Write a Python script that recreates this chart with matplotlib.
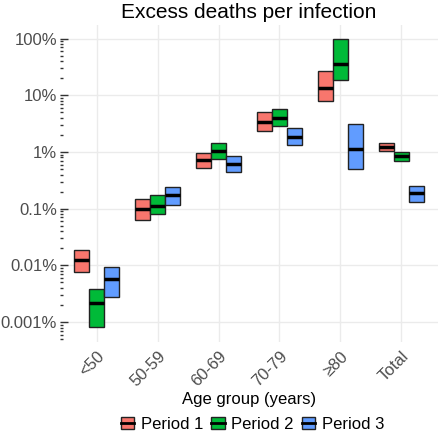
import matplotlib
matplotlib.use("Agg")
import matplotlib.pyplot as plt
from matplotlib.patches import Patch
from matplotlib.lines import Line2D
from matplotlib.legend_handler import HandlerTuple
from matplotlib.ticker import LogLocator, FixedLocator, NullFormatter
import numpy as np

plt.rcParams['font.family'] = ['Liberation Sans', 'DejaVu Sans']

groups = ["<50", "50-59", "60-69", "70-79", "\u226580", "Total"]
periods = ["Period 1", "Period 2", "Period 3"]
colors = ["#F8766D", "#00BA38", "#619CFF"]

# excess deaths per infection, in percent (median, lower, upper)
p1_mid = [0.0124, 0.099, 0.71, 3.42, 13.3, 1.22]
p1_low = [0.0077, 0.063, 0.52, 2.38, 8.0, 1.03]
p1_high = [0.0187, 0.146, 0.95, 5.14, 26.8, 1.44]

p2_mid = [0.0022, 0.112, 1.05, 3.98, 36.1, 0.84]
p2_low = [0.00081, 0.081, 0.75, 2.91, 18.6, 0.70]
p2_high = [0.00384, 0.174, 1.46, 5.66, 97.2, 0.99]

p3_mid = [0.0058, 0.174, 0.61, 1.84, 1.12, 0.189]
p3_low = [0.0028, 0.116, 0.44, 1.31, 0.495, 0.133]
p3_high = [0.0095, 0.238, 0.86, 2.62, 3.12, 0.255]

mids = [p1_mid, p2_mid, p3_mid]
lows = [p1_low, p2_low, p3_low]
highs = [p1_high, p2_high, p3_high]

fig = plt.figure(figsize=(4.4, 4.36), dpi=100)
ax = fig.add_axes([60/440, (436-341.7)/436, 378/440, (341.7-24.9)/436])

x = np.arange(1, len(groups) + 1)
w = 0.25
for i in range(3):
    xi = x + (i - 1) * w
    lo = np.array(lows[i]) / 100
    hi = np.array(highs[i]) / 100
    md = np.array(mids[i]) / 100
    ax.bar(xi, hi - lo, bottom=lo, width=w, color=colors[i],
           edgecolor="#222222", linewidth=1.0, zorder=3)
    ax.hlines(md, xi - w/2, xi + w/2, color="black", linewidth=2.5, zorder=4)

ax.set_yscale("log")
ax.set_ylim(10**(-3.346 - 2), 10**(2.242 - 2))
ax.set_xlim(0.4, 6.6)

ax.yaxis.set_major_locator(FixedLocator([1e-5, 1e-4, 1e-3, 1e-2, 1e-1, 1]))
ax.set_yticklabels(["0.001%", "0.01%", "0.1%", "1%", "10%", "100%"])
ax.yaxis.set_minor_locator(LogLocator(base=10, subs=np.arange(2, 10), numticks=20))
ax.yaxis.set_minor_formatter(NullFormatter())
ax.tick_params(axis="y", which="major", direction="in", length=6, width=1,
               color="#333333", labelsize=12, labelcolor="#4D4D4D", pad=2)
ax.tick_params(axis="y", which="minor", direction="in", length=2.5, width=1,
               color="#333333")

ax.set_xticks(x)
ax.set_xticklabels(groups, rotation=45, ha="right", va="top",
                   rotation_mode="anchor")
ax.tick_params(axis="x", length=0, labelsize=12, labelcolor="#4D4D4D", pad=5)

ax.grid(True, which="major", color="#EBEBEB", linewidth=1, zorder=0)
ax.set_axisbelow(True)
for s in ax.spines.values():
    s.set_visible(False)

ax.set_title("Excess deaths per infection", fontsize=15, pad=5)
ax.set_xlabel("Age group (years)", fontsize=12, labelpad=2)

handles = []
for c in colors:
    handles.append((Patch(facecolor=c, edgecolor="#222222", linewidth=1.0),
                    Line2D([], [], color="black", linewidth=2)))
fig.legend(handles, periods, handler_map={tuple: HandlerTuple(ndivide=1)},
           loc="center", bbox_to_anchor=(0.574, 0.027), ncol=3, frameon=False,
           fontsize=12, handlelength=0.8, handleheight=0.7, handletextpad=0.4,
           columnspacing=0.5)

fig.savefig("out.png", dpi=100)
